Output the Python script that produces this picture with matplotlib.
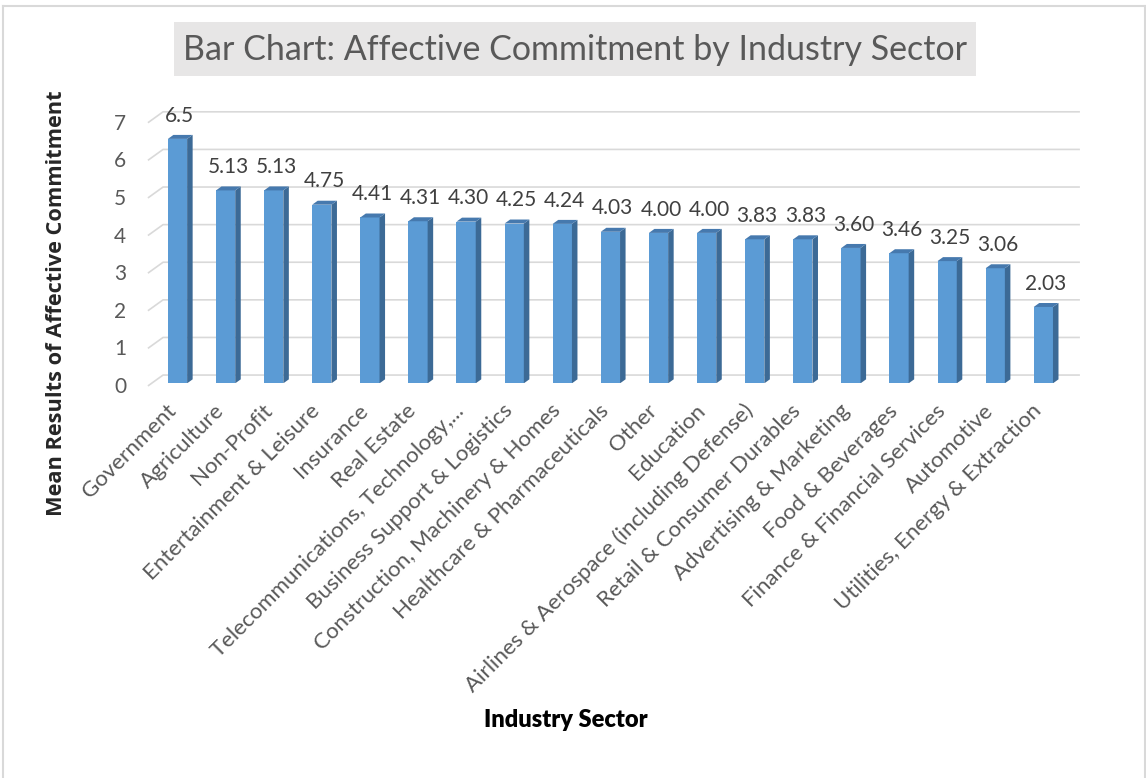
import matplotlib
matplotlib.use('Agg')
import matplotlib.pyplot as plt
from matplotlib.patches import Rectangle
from matplotlib.lines import Line2D

sectors = ['Government', 'Agriculture', 'Non-Profit', 'Entertainment & Leisure',
           'Insurance', 'Real Estate', 'Telecommunications, Technology,...',
           'Business Support & Logistics', 'Construction, Machinery & Homes',
           'Healthcare & Pharmaceuticals', 'Other', 'Education',
           'Airlines & Aerospace (including Defense)', 'Retail & Consumer Durables',
           'Advertising & Marketing', 'Food & Beverages', 'Finance & Financial Services',
           'Automotive', 'Utilities, Energy & Extraction']
means = [6.5, 5.13, 5.13, 4.75, 4.41, 4.31, 4.30, 4.25, 4.24, 4.03,
         4.00, 4.00, 3.83, 3.83, 3.60, 3.46, 3.25, 3.06, 2.03]
decimals = [1] + [2] * 18
yticks = [0, 1, 2, 3, 4, 5, 6, 7]

TEXT = '#595959'
FRONT = '#5b9bd5'
SIDE = '#3c6a96'
TOP = '#4679ae'
GRID = '#d9d9d9'

W, H = 1146, 778
fig = plt.figure(figsize=(W / 100, H / 100), dpi=100)

# chart frame
for xs, ys in [([3, 1145], [6, 6]), ([3, 3], [6, 778]), ([1145, 1145], [6, 778])]:
    fig.add_artist(Line2D([x / W for x in xs], [1 - y / H for y in ys],
                          color='#d9d9d9', lw=1.5))

# title box
fig.add_artist(Rectangle((174 / W, 1 - 76 / H), (976 - 174) / W, 54 / H,
                         facecolor='#e7e6e6', edgecolor='none'))
fig.text(575 / W, 1 - 50 / H, 'Bar Chart: Affective Commitment by Industry Sector',
         ha='center', va='center', fontsize=24.5, color=TEXT, family='Lato')

ax = fig.add_axes([0.1234, 0.5073, 0.8185, 0.3625])
ax.set_xlim(-0.75, 18.75)
ax.set_ylim(0, 7.5)
ax.axis('off')

x = list(range(len(means)))
bw = 0.4          # front face width
dx, dy = 0.115, 0.106   # depth of bar side/top
gx0, gx1 = -0.615, -0.30  # floor / back wall offsets for gridlines
gy0, gy1 = -0.07, 0.22

# gridlines on the back wall with the oblique floor segment
for t in yticks:
    ax.plot([gx0, gx1, 18.76], [t + gy0, t + gy1, t + gy1], color=GRID,
            lw=1.2, zorder=1, clip_on=False, solid_capstyle='butt')
    ax.text(-1.07, t - 0.1, str(t), ha='right', va='center', fontsize=15,
            color=TEXT, family='Lato')

bars = ax.bar(x, means, width=bw, color=FRONT, zorder=3, linewidth=0)
for b, v, d in zip(bars, means, decimals):
    l = b.get_x()
    r = l + b.get_width()
    ax.fill([r, r + dx, r + dx, r], [0, dy, v + dy, v], color=SIDE, lw=0, zorder=3)
    ax.fill([l, r, r + dx, l + dx], [v, v, v + dy, v + dy], color=TOP, lw=0, zorder=3)
    ax.text(b.get_x() + bw / 2 + 0.05, v + 0.62, f'{v:.{d}f}', ha='center',
            va='center', fontsize=15, color='#404040', family='Lato', clip_on=False)

for i, s in zip(x, sectors):
    ax.text(i - 0.1, -0.65, s, rotation=45, rotation_mode='anchor', ha='right',
            va='center', fontsize=16, color=TEXT, family='Lato', clip_on=False)

fig.text(57 / W, 1 - 303 / H, 'Mean Results of Affective Commitment', rotation=90,
         ha='center', va='center', fontsize=15.7, fontweight='bold', color='#262626',
         family='Open Sans')
fig.text(566 / W, 1 - 720 / H, 'Industry Sector', ha='center', va='center',
         fontsize=17, fontweight='heavy', color='black', family='Lato')

fig.savefig('out.png', dpi=100)
